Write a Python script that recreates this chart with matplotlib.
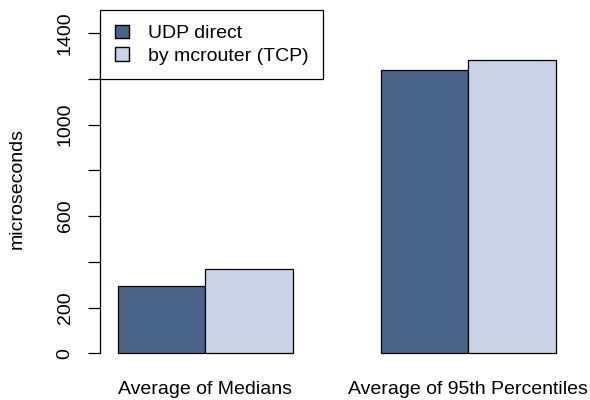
import numpy as np
import matplotlib
matplotlib.use('Agg')
import matplotlib.pyplot as plt
from matplotlib.patches import Patch

plt.rcParams['font.family'] = ['Liberation Sans', 'DejaVu Sans']

# Data
groups = ['Average of Medians', 'Average of 95th Percentiles']
series = ['UDP direct', 'by mcrouter (TCP)']
udp_direct = [296, 1239]
by_mcrouter = [367, 1282]
colors = ['#4a6388', '#c8d4e3']

yticks = [0, 200, 400, 600, 800, 1000, 1200, 1400]
ytick_labels = ['0', '200', '', '600', '', '1000', '', '1400']

fs = 14

fig = plt.figure(figsize=(5.9, 4), dpi=100)
ax = fig.add_axes([100 / 590, 1 - 366.5 / 400, 473.5 / 590, 356.5 / 400])

# R style barplot: beside=TRUE, space=c(0,1)
centers = np.array([2.0, 5.0])
ax.bar(centers - 0.5, udp_direct, width=1.0, color=colors[0], edgecolor='black', linewidth=0.9)
ax.bar(centers + 0.5, by_mcrouter, width=1.0, color=colors[1], edgecolor='black', linewidth=0.9)

ymax = 1444
ax.set_xlim(0.8, 6.2)
ax.set_ylim(-0.04 * ymax, 1.04 * ymax)

for s in ['top', 'right', 'bottom']:
    ax.spines[s].set_visible(False)
ax.spines['left'].set_bounds(0, 1400)
ax.spines['left'].set_linewidth(0.9)

ax.set_yticks(yticks)
ax.set_yticklabels(ytick_labels, rotation=90, va='center', fontsize=fs)
ax.tick_params(axis='y', direction='out', length=9, width=0.9, pad=10)
ax.set_xticks([])

ax.set_ylabel('microseconds', fontsize=fs, labelpad=22)

# group names under the bars
for c, g in zip(centers, groups):
    ax.text(c, -0.04 * ymax - 23 / 0.2286, g, ha='center', va='center', fontsize=fs)

handles = [Patch(facecolor=colors[i], edgecolor='black', label=series[i]) for i in range(2)]
leg = ax.legend(handles=handles, loc='upper left', bbox_to_anchor=(0, 1), borderaxespad=0,
                fancybox=False, framealpha=1, edgecolor='black', fontsize=fs,
                handlelength=0.72, handleheight=0.72, handletextpad=1.0, borderpad=0.75,
                labelspacing=0.25)
leg.get_frame().set_linewidth(0.9)

fig.savefig('out.png', dpi=100)
